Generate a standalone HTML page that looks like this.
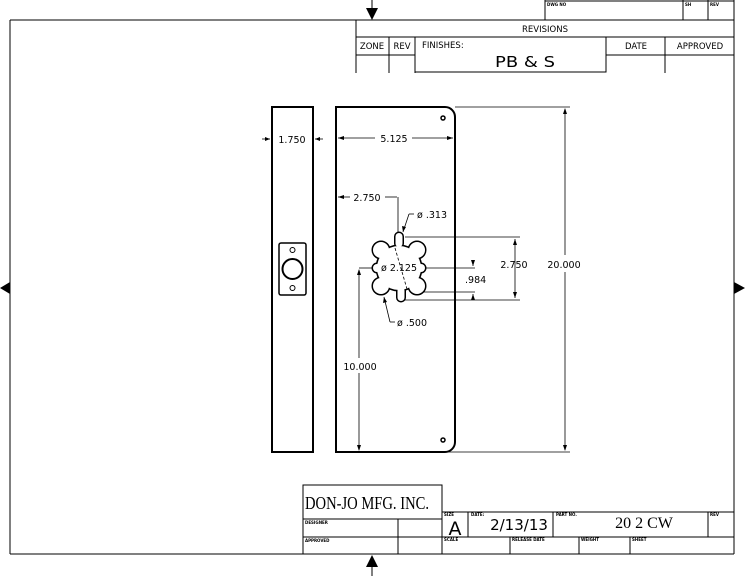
<!DOCTYPE html>
<html><head><meta charset="utf-8"><style>
html,body{margin:0;padding:0;background:#fff;}
svg{display:block}
text{font-family:"DejaVu Sans","Liberation Sans",sans-serif;fill:#000}
</style></head><body>
<svg width="745" height="576" viewBox="0 0 745 576" xmlns="http://www.w3.org/2000/svg">
<g stroke="#000" fill="none" stroke-width="1">
<line x1="10" y1="20" x2="734" y2="20"/>
<line x1="10" y1="20" x2="10" y2="554"/>
<line x1="734" y1="0" x2="734" y2="554"/>
<line x1="10" y1="554" x2="734" y2="554"/>
<line x1="545" y1="0" x2="545" y2="20"/>
<line x1="683" y1="0" x2="683" y2="20"/>
<line x1="708" y1="0" x2="708" y2="20"/>
<line x1="545" y1="1" x2="734" y2="1"/>
<line x1="356" y1="20" x2="356" y2="73"/>
<line x1="356" y1="37" x2="734" y2="37"/>
<line x1="356" y1="55" x2="734" y2="55"/>
<line x1="389" y1="37" x2="389" y2="73"/>
<line x1="415" y1="37" x2="415" y2="73"/>
<line x1="665" y1="37" x2="665" y2="73"/>
<rect x="415" y="37" width="191" height="35" fill="#fff"/>
<line x1="372" y1="0" x2="372" y2="10"/>
<line x1="372" y1="565" x2="372" y2="576"/>
<rect x="303" y="485" width="139" height="34"/>
<line x1="303" y1="519" x2="303" y2="554"/>
<line x1="303" y1="537" x2="442" y2="537"/>
<line x1="398" y1="519" x2="398" y2="554"/>
<line x1="442" y1="512" x2="442" y2="554"/>
<line x1="442" y1="512" x2="734" y2="512"/>
<line x1="442" y1="537" x2="734" y2="537"/>
<line x1="468" y1="512" x2="468" y2="537"/>
<line x1="553" y1="512" x2="553" y2="537"/>
<line x1="708" y1="512" x2="708" y2="537"/>
<line x1="510" y1="537" x2="510" y2="554"/>
<line x1="579" y1="537" x2="579" y2="554"/>
<line x1="630" y1="537" x2="630" y2="554"/>
</g>
<g fill="#000">
<polygon points="366,8 378,8 372,20"/>
<polygon points="366,567 378,567 372,555"/>
<polygon points="0,288 10,282 10,294"/>
<polygon points="745,288 734,282 734,294"/>
</g>
<g font-size="4" font-weight="bold">
<text x="547" y="6">DWG NO</text><text x="685" y="6">SH</text><text x="710" y="6">REV</text>
<text x="305" y="524">DESIGNER</text><text x="305" y="542">APPROVED</text>
<text x="444" y="516">SIZE</text><text x="471" y="516">DATE:</text><text x="556" y="516">PART NO.</text><text x="710" y="516">REV</text>
<text x="444" y="541">SCALE</text><text x="512" y="541">RELEASE DATE</text><text x="581" y="541">WEIGHT</text><text x="632" y="541">SHEET</text>
</g>
<g font-size="8.5">
<text x="545" y="32" text-anchor="middle">REVISIONS</text>
<text x="372" y="49" text-anchor="middle">ZONE</text>
<text x="402" y="49" text-anchor="middle">REV</text>
<text x="422" y="48">FINISHES:</text>
<text x="636" y="49" text-anchor="middle">DATE</text>
<text x="700" y="49" text-anchor="middle">APPROVED</text>
</g>
<text x="525" y="67" font-size="15" text-anchor="middle" textLength="60" lengthAdjust="spacingAndGlyphs">PB &amp; S</text>
<text x="305" y="509" font-size="18" style="font-family:'Liberation Serif',serif" textLength="124" lengthAdjust="spacingAndGlyphs">DON-JO MFG. INC.</text>
<text x="455" y="535" font-size="19" text-anchor="middle">A</text>
<text x="519" y="530" font-size="15" text-anchor="middle">2/13/13</text>
<text x="644" y="528" font-size="16" text-anchor="middle" style="font-family:'Liberation Serif',serif">20 2 CW</text>
<g stroke="#000" fill="none">
<rect x="272" y="107" width="41" height="345" stroke-width="2"/>
<rect x="279" y="243" width="27" height="52" rx="2" stroke-width="1.5"/>
<circle cx="292.5" cy="269" r="10" stroke-width="2"/>
<circle cx="292.5" cy="250" r="2.5" stroke-width="1"/>
<circle cx="292.5" cy="288" r="2.5" stroke-width="1"/>
<path d="M336 107 H445 A10 10 0 0 1 455 117 V442 A10 10 0 0 1 445 452 H336 Z" stroke-width="2"/>
<circle cx="443" cy="118" r="2" stroke-width="1.5"/>
<circle cx="443" cy="440" r="2" stroke-width="1.5"/>
</g>
<g stroke="#000" stroke-width="3" fill="#fff">
<circle cx="399" cy="268" r="22"/>
<circle cx="381" cy="250" r="8"/><circle cx="417" cy="250" r="8"/>
<circle cx="381" cy="286" r="8"/><circle cx="417" cy="286" r="8"/>
<rect x="395.5" y="233" width="7" height="14" rx="3.5"/>
<rect x="397.5" y="287" width="7" height="14" rx="3.5"/>
<circle cx="377" cy="268" r="4"/><circle cx="421" cy="268" r="4"/>
</g>
<g fill="#fff">
<circle cx="399" cy="268" r="22"/>
<circle cx="381" cy="250" r="8"/><circle cx="417" cy="250" r="8"/>
<circle cx="381" cy="286" r="8"/><circle cx="417" cy="286" r="8"/>
<rect x="395.5" y="233" width="7" height="14" rx="3.5"/>
<rect x="397.5" y="287" width="7" height="14" rx="3.5"/>
<circle cx="377" cy="268" r="4"/><circle cx="421" cy="268" r="4"/>
</g>
<g stroke="#000" stroke-width="0.8" fill="none">
<line x1="262" y1="139" x2="270" y2="139"/><line x1="315" y1="139" x2="323" y2="139"/>
<line x1="338" y1="138" x2="375" y2="138"/><line x1="412" y1="138" x2="453" y2="138"/>
<line x1="338" y1="197" x2="350" y2="197"/><line x1="385" y1="197" x2="397" y2="197"/>
<line x1="398" y1="197" x2="398" y2="232"/>
<line x1="403" y1="232" x2="409" y2="214"/><line x1="409" y1="214" x2="414" y2="214"/>
<line x1="405" y1="237" x2="520" y2="237"/><line x1="405" y1="300" x2="520" y2="300"/>
<line x1="515" y1="239" x2="515" y2="298"/>
<line x1="425" y1="268" x2="475" y2="268"/><line x1="423" y1="292" x2="475" y2="292"/>
<line x1="473" y1="260" x2="473" y2="266"/><line x1="473" y1="294" x2="473" y2="300"/>
<line x1="384" y1="297" x2="390" y2="322"/><line x1="390" y1="322" x2="395" y2="322"/>
<line x1="395" y1="248" x2="407" y2="289" stroke-dasharray="3,2"/>
<line x1="359" y1="268" x2="372" y2="268"/>
<line x1="359" y1="270" x2="359" y2="358"/><line x1="359" y1="373" x2="359" y2="450"/>
<line x1="455" y1="107" x2="570" y2="107"/><line x1="445" y1="452" x2="570" y2="452"/>
<line x1="565" y1="109" x2="565" y2="255"/><line x1="565" y1="272" x2="565" y2="450"/>
</g>
<g fill="#000">
<polygon points="270,139 265,137 265,141"/><polygon points="315,139 320,137 320,141"/>
<polygon points="338,138 344,136 344,140"/><polygon points="453,138 447,136 447,140"/>
<polygon points="338,197 344,195 344,199"/>
<polygon points="403,232 402,226 406,227"/>
<polygon points="515,239 513,245 517,245"/><polygon points="515,298 513,292 517,292"/>
<polygon points="473,266 471,260 475,260"/><polygon points="473,294 471,300 475,300"/>
<polygon points="384,297 383,303 387,302"/>
<polygon points="359,269 357,275 361,275"/><polygon points="359,451 357,445 361,445"/>
<polygon points="565,108 563,114 567,114"/><polygon points="565,451 563,445 567,445"/>
</g>
<g font-size="9.5">
<text x="292" y="143" text-anchor="middle">1.750</text>
<text x="394" y="142" text-anchor="middle">5.125</text>
<text x="367" y="201" text-anchor="middle">2.750</text>
<text x="417" y="218">ø .313</text>
<text x="399" y="271" text-anchor="middle">ø 2.125</text>
<text x="465" y="283">.984</text>
<text x="514" y="268" text-anchor="middle">2.750</text>
<text x="564" y="268" text-anchor="middle">20.000</text>
<text x="397" y="326">ø .500</text>
<text x="360" y="370" text-anchor="middle">10.000</text>
</g>
</svg>
</body></html>
